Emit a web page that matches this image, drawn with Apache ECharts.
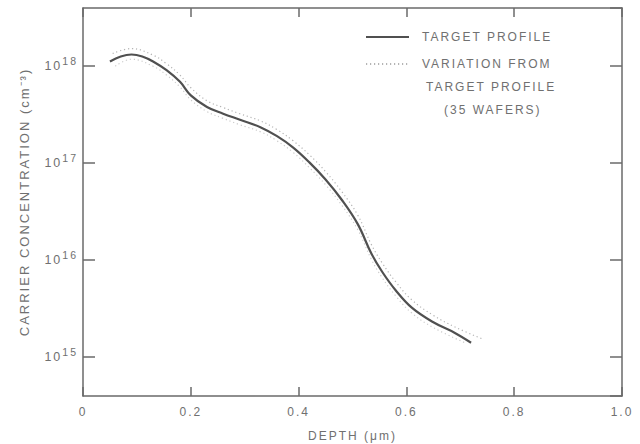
<!DOCTYPE html>
<html>
<head>
<meta charset="utf-8">
<script src="https://cdn.jsdelivr.net/npm/echarts@6/dist/echarts.min.js"></script>
<style>
html,body{margin:0;padding:0;background:#fff;}
#chart{width:640px;height:444px;}
#chart text{letter-spacing:2px;}
</style>
</head>
<body>
<div id="chart"></div>
<script>
// Depth (µm) and carrier concentration (cm^-3)
const targetDepth = [0.05, 0.07, 0.09, 0.11, 0.13, 0.155, 0.18, 0.20, 0.23, 0.26, 0.29, 0.33, 0.36, 0.39, 0.42, 0.45, 0.48, 0.51, 0.535, 0.555, 0.58, 0.61, 0.65, 0.69, 0.72];
const targetConc = [1.12e18, 1.26e18, 1.32e18, 1.26e18, 1.12e18, 9.1e17, 6.9e17, 5.0e17, 3.8e17, 3.24e17, 2.82e17, 2.34e17, 1.9e17, 1.45e17, 1.02e17, 6.8e16, 4.2e16, 2.34e16, 1.17e16, 7.6e15, 4.9e15, 3.24e15, 2.29e15, 1.78e15, 1.41e15];

const upperDepth = [0.055, 0.09, 0.13, 0.155, 0.18, 0.20, 0.23, 0.26, 0.29, 0.33, 0.36, 0.39, 0.42, 0.45, 0.48, 0.51, 0.535, 0.555, 0.58, 0.61, 0.65, 0.69, 0.74];
const upperConc = [1.35e18, 1.52e18, 1.30e18, 1.06e18, 8.1e17, 6.0e17, 4.4e17, 3.75e17, 3.25e17, 2.72e17, 2.22e17, 1.7e17, 1.22e17, 8.2e16, 5.1e16, 2.9e16, 1.45e16, 9.4e15, 6.0e15, 3.9e15, 2.7e15, 2.05e15, 1.55e15];

const lowerDepth = [0.06, 0.09, 0.13, 0.155, 0.18, 0.20, 0.23, 0.26, 0.29, 0.33, 0.36, 0.39, 0.42, 0.45, 0.48, 0.51, 0.535, 0.555, 0.58, 0.61, 0.65, 0.71];
const lowerConc = [1.0e18, 1.18e18, 1.0e18, 8.1e17, 6.1e17, 4.5e17, 3.4e17, 2.9e17, 2.5e17, 2.1e17, 1.7e17, 1.29e17, 9.0e16, 6.0e16, 3.7e16, 2.05e16, 1.02e16, 6.6e15, 4.3e15, 2.85e15, 2.02e15, 1.4e15];

const xTickLabels = ['0', '0.2', '0.4', '0.6', '0.8', '1.0'];
const yExponents = [15, 16, 17, 18];

const seriesNames = ['TARGET PROFILE', 'VARIATION FROM'];
const legendExtraLines = ['TARGET PROFILE', '(35 WAFERS)'];

function pairs(xs, ys) { return xs.map((x, i) => [x, ys[i]]); }

const axisColor = '#6a6a6a';
const textColor = '#707070';
const fontFam = '"Liberation Sans", Arial, Helvetica, sans-serif';

const chart = echarts.init(document.getElementById('chart'), null, { renderer: 'svg' });
chart.setOption({
  animation: false,
  backgroundColor: '#fff',
  grid: { left: 83, right: 18, top: 8, bottom: 48, containLabel: false, outerBoundsMode: 'none' },
  legend: {
    data: seriesNames,
    orient: 'vertical',
    left: 360,
    top: 26,
    itemWidth: 43,
    itemHeight: 14,
    itemGap: 15,
    selectedMode: false,
    itemStyle: { opacity: 0 },
    textStyle: { color: textColor, fontSize: 12, fontFamily: fontFam, padding: [0, 0, 0, 8] }
  },
  graphic: [
    { type: 'text', x: 426, y: 87, style: { text: legendExtraLines[0], fill: textColor, font: '12px ' + fontFam, textAlign: 'left', textVerticalAlign: 'middle' } },
    { type: 'text', x: 444, y: 110, style: { text: legendExtraLines[1], fill: textColor, font: '12px ' + fontFam, textAlign: 'left', textVerticalAlign: 'middle' } }
  ],
  xAxis: [{
    type: 'value', min: 0, max: 1, interval: 0.2,
    name: 'DEPTH (μm)', nameLocation: 'middle', nameGap: 34,
    nameTextStyle: { color: textColor, fontSize: 12, fontFamily: fontFam },
    axisLine: { show: true, onZero: false, lineStyle: { color: axisColor, width: 1.5 } },
    axisTick: { show: true, inside: true, length: 9, lineStyle: { color: axisColor, width: 1.5 } },
    axisLabel: { color: textColor, fontSize: 12, fontFamily: fontFam, margin: 10,
      formatter: v => { const i = Math.round(v / 0.2); return xTickLabels[i] !== undefined ? xTickLabels[i] : ''; } },
    splitLine: { show: false }
  }, {
    type: 'value', min: 0, max: 1, interval: 0.2, position: 'top',
    axisLine: { show: true, onZero: false, lineStyle: { color: axisColor, width: 1.5 } },
    axisTick: { show: true, inside: true, length: 9, lineStyle: { color: axisColor, width: 1.5 } },
    axisLabel: { show: false }, splitLine: { show: false }
  }],
  yAxis: [{
    type: 'log', logBase: 10, min: Math.pow(10, 14.6), max: Math.pow(10, 18.6), position: 'left',
    name: 'CARRIER CONCENTRATION (cm⁻³)', nameLocation: 'middle', nameGap: 52, nameRotate: 90,
    nameTextStyle: { color: textColor, fontSize: 13, fontFamily: fontFam },
    axisLine: { show: true, onZero: false, lineStyle: { color: axisColor, width: 1.5 } },
    axisTick: { show: true, inside: true, length: 12, lineStyle: { color: axisColor, width: 1.5 } },
    axisLabel: {
      color: textColor, fontFamily: fontFam, margin: 5, showMinLabel: false, showMaxLabel: false,
      formatter: v => {
        const e = Math.log10(v), r = Math.round(e);
        if (Math.abs(e - r) > 1e-6 || yExponents.indexOf(r) < 0) return '';
        return '{b|10}{s|' + r + '}';
      },
      rich: {
        b: { fontSize: 12.5, color: textColor, fontFamily: fontFam },
        s: { fontSize: 10.5, color: textColor, fontFamily: fontFam, padding: [0, 0, 10, 4] }
      }
    },
    splitLine: { show: false }
  }, {
    type: 'log', logBase: 10, min: Math.pow(10, 14.6), max: Math.pow(10, 18.6), position: 'right',
    axisLine: { show: true, onZero: false, lineStyle: { color: axisColor, width: 1.5 } },
    axisTick: { show: true, inside: true, length: 12, lineStyle: { color: axisColor, width: 1.5 } },
    axisLabel: { show: false }, splitLine: { show: false }
  }],
  series: [{
    name: seriesNames[0], type: 'line', smooth: 0.4, showSymbol: false, symbol: 'none',
    data: pairs(targetDepth, targetConc),
    lineStyle: { color: '#505050', width: 2.2 }, itemStyle: { color: '#505050' }, z: 3
  }, {
    name: seriesNames[1], type: 'line', smooth: 0.4, showSymbol: false, symbol: 'none',
    data: pairs(upperDepth, upperConc),
    lineStyle: { color: '#b4b4b4', width: 1.2, type: [1.2, 2.8] }, itemStyle: { color: '#b4b4b4' }, z: 2
  }, {
    name: seriesNames[1], type: 'line', smooth: 0.4, showSymbol: false, symbol: 'none',
    data: pairs(lowerDepth, lowerConc),
    lineStyle: { color: '#cccccc', width: 1.2, type: [1.2, 2.8] }, itemStyle: { color: '#cccccc' }, z: 2
  }]
});
</script>
</body>
</html>
